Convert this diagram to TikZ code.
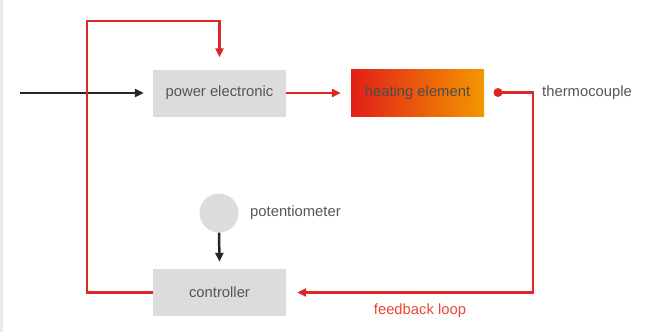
\documentclass[tikz,border=0pt]{standalone}
\usepackage{fontspec}
\setmainfont{Liberation Sans}
\usetikzlibrary{arrows.meta,positioning}
\definecolor{boxgray}{RGB}{220,220,220}
\definecolor{txtgray}{RGB}{85,85,85}
\definecolor{loopred}{RGB}{222,38,38}
\definecolor{hotred}{RGB}{226,30,24}
\definecolor{hotorange}{RGB}{243,150,0}
\definecolor{fbred}{RGB}{232,70,50}
\begin{document}
\begin{tikzpicture}[x=1pt,y=-1pt,
		block/.style={rectangle,fill=boxgray,minimum width=133pt,minimum height=47pt,inner sep=0pt,
			text=txtgray,font=\fontsize{14.8}{17}\selectfont},
		lbl/.style={text=txtgray,font=\fontsize{14.8}{17}\selectfont,inner sep=0pt},
		redline/.style={draw=loopred,line width=2.5pt},
		redarrow/.style={redline,-{Triangle[length=9pt,width=8pt]}},
		blackarrow/.style={draw=black!85,line width=2.5pt,-{Triangle[length=9pt,width=8pt]}}]
		\useasboundingbox (0,0) rectangle (664,332);
		\fill[black!8] (0,0) rectangle (3,332);
		\node[block](power) at (219.5,93){power electronic};
		\node[block,left color=hotred,right color=hotorange,text=black!70](heat) at (417.5,93){heating element};
		\node[block](ctrl) at (219.5,292.5){controller};
		\node[circle,fill=boxgray,minimum size=39pt,inner sep=0pt](poti) at (219,213){};
		\node[lbl,anchor=west](potilbl) at (250,213){potentiometer};
		\coordinate (tc) at (498,92.5);
		\node[lbl,anchor=west](tclbl) at (542,92.5){thermocouple};
		\coordinate (in) at (20,93);
		\node[lbl,text=fbred,anchor=north](fb) at (420,304){feedback loop};
		\draw[blackarrow] (in) -- ([xshift=-9pt]power.west);
		\draw[redarrow] (power.east) -- ([xshift=-10pt]heat.west);
		\draw[redarrow] (ctrl.west) -| (87,21) -| ([yshift=12pt]power.north);
		\draw[redarrow] (tc) -| (533,292.5) -- ([xshift=11pt]ctrl.east);
		\fill[loopred] (tc) circle (4.5pt);
		\draw[blackarrow] (poti.south) -- ([yshift=7pt]ctrl.north);
	\end{tikzpicture}
\end{document}
